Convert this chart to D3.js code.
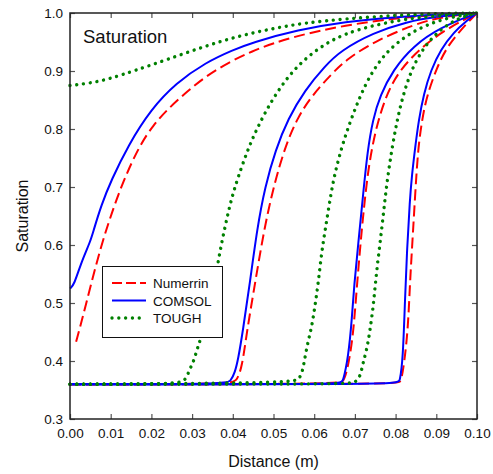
<!DOCTYPE html>
<html><head><meta charset="utf-8">
<script src="https://cdn.jsdelivr.net/npm/d3@7"></script>
<style>body{margin:0;background:#fff}svg{display:block;font-family:Arial,"Liberation Sans",sans-serif}</style>
</head><body><svg id="c" width="493" height="474"></svg>
<script>
// ---- data: [distance (m), saturation] ----
const numerrin1 = [[0.0015,0.433],[0.003,0.472],[0.005,0.528],[0.0077,0.6],[0.0101,0.652],[0.013,0.709],[0.0171,0.772],[0.0205,0.807],[0.0241,0.835],[0.029,0.866],[0.0334,0.891],[0.039,0.915],[0.0447,0.934],[0.05,0.948],[0.056,0.961],[0.0676,0.979],[0.08,0.991],[0.09,0.997],[0.1,1.0]];
const numerrin2 = [[0,0.36],[0.0395,0.36],[0.041,0.366],[0.0423,0.39],[0.0435,0.453],[0.0455,0.535],[0.0484,0.657],[0.0525,0.765],[0.056,0.821],[0.0595,0.858],[0.0644,0.896],[0.068,0.92],[0.0745,0.95],[0.085,0.982],[0.092,0.994],[0.1,1.0]];
const numerrin3 = [[0,0.36],[0.066,0.36],[0.0672,0.365],[0.068,0.38],[0.0695,0.436],[0.0705,0.531],[0.0717,0.629],[0.073,0.716],[0.0742,0.768],[0.0756,0.812],[0.0779,0.862],[0.0811,0.903],[0.0867,0.943],[0.0926,0.973],[0.1,1.0]];
const numerrin4 = [[0,0.36],[0.0805,0.36],[0.0812,0.364],[0.0818,0.38],[0.083,0.448],[0.0835,0.531],[0.084,0.59],[0.0848,0.686],[0.0855,0.765],[0.0865,0.816],[0.0877,0.858],[0.0902,0.907],[0.0926,0.941],[0.0958,0.969],[0.099,0.993],[0.1,1.0]];

const comsol1 = [[0,0.525],[0.001,0.531],[0.0028,0.571],[0.005,0.606],[0.0057,0.623],[0.0077,0.669],[0.0101,0.711],[0.0143,0.772],[0.0199,0.834],[0.026,0.879],[0.0334,0.915],[0.04,0.936],[0.0447,0.949],[0.056,0.971],[0.0676,0.985],[0.08,0.993],[0.09,0.997],[0.1,1.0]];
const comsol2 = [[0,0.36],[0.038,0.36],[0.0395,0.365],[0.0405,0.38],[0.0413,0.402],[0.0425,0.453],[0.0442,0.535],[0.046,0.629],[0.0479,0.7],[0.0505,0.764],[0.0536,0.818],[0.0577,0.867],[0.0627,0.909],[0.0665,0.935],[0.0745,0.966],[0.0828,0.985],[0.09,0.994],[0.1,1.0]];
const comsol3 = [[0,0.36],[0.0665,0.36],[0.067,0.362],[0.0684,0.407],[0.0693,0.476],[0.0698,0.53],[0.0708,0.6],[0.072,0.686],[0.0731,0.762],[0.0744,0.816],[0.0762,0.858],[0.0794,0.902],[0.0843,0.943],[0.0909,0.975],[0.1,1.0]];
const comsol4 = [[0,0.36],[0.0805,0.36],[0.081,0.363],[0.0818,0.402],[0.0823,0.505],[0.0828,0.591],[0.0835,0.678],[0.084,0.72],[0.0848,0.768],[0.0857,0.816],[0.0869,0.86],[0.0887,0.902],[0.0911,0.937],[0.0943,0.967],[0.0975,0.987],[0.1,1.0]];

const tough1 = [[0,0.875],[0.005,0.879],[0.01,0.887],[0.016,0.901],[0.024,0.92],[0.0332,0.943],[0.0413,0.96],[0.0496,0.973],[0.0577,0.983],[0.0676,0.99],[0.08,0.996],[0.09,0.999],[0.1,1.0]];
const tough2 = [[0,0.36],[0.0265,0.36],[0.0283,0.367],[0.029,0.378],[0.0297,0.39],[0.0304,0.4],[0.0314,0.424],[0.032,0.436],[0.0335,0.47],[0.0351,0.515],[0.0361,0.56],[0.0373,0.605],[0.0386,0.648],[0.0398,0.683],[0.0413,0.717],[0.0437,0.765],[0.0462,0.805],[0.0496,0.85],[0.0536,0.891],[0.0577,0.921],[0.0627,0.947],[0.0675,0.964],[0.0745,0.979],[0.085,0.993],[0.1,1.0]];
const tough3 = [[0,0.36],[0.0548,0.362],[0.0563,0.369],[0.0571,0.381],[0.0577,0.405],[0.0585,0.434],[0.0594,0.459],[0.0602,0.495],[0.061,0.535],[0.0618,0.586],[0.0627,0.626],[0.0637,0.67],[0.0648,0.716],[0.0668,0.77],[0.0688,0.812],[0.0713,0.857],[0.0737,0.892],[0.0762,0.918],[0.0786,0.938],[0.0828,0.962],[0.0877,0.98],[0.0934,0.993],[0.1,1.0]];
const tough4 = [[0,0.36],[0.0685,0.36],[0.07,0.363],[0.0713,0.372],[0.072,0.397],[0.073,0.422],[0.0737,0.453],[0.0745,0.493],[0.075,0.532],[0.0757,0.576],[0.0767,0.634],[0.0774,0.68],[0.0782,0.724],[0.0792,0.77],[0.0803,0.812],[0.0816,0.852],[0.0835,0.895],[0.086,0.931],[0.0892,0.96],[0.0934,0.984],[0.0975,0.996],[0.1,1.0]];

const xTicks = [0,0.01,0.02,0.03,0.04,0.05,0.06,0.07,0.08,0.09,0.1];
const yTicks = [0.3,0.4,0.5,0.6,0.7,0.8,0.9,1.0];
const legendNames = ["Numerrin","COMSOL","TOUGH"];

// ---- drawing ----
const svg = d3.select("#c");
const L = 70, R = 477, T = 13, B = 419;
const x = d3.scaleLinear().domain([0,0.1]).range([L,R]);
const y = d3.scaleLinear().domain([0.3,1.0]).range([B,T]);

const styles = {
  Numerrin: {stroke:"#ff0000", width:2, dash:"11,5", cap:"butt"},
  COMSOL: {stroke:"#0000ff", width:2, dash:null, cap:"butt"},
  TOUGH: {stroke:"#008000", width:3.4, dash:"0.01,6.8", cap:"round"}
};
const groups = [
  ["Numerrin",[numerrin1,numerrin2,numerrin3,numerrin4]],
  ["COMSOL",[comsol1,comsol2,comsol3,comsol4]],
  ["TOUGH",[tough1,tough2,tough3,tough4]]
];
const line = d3.line().x(d=>x(d[0])).y(d=>y(d[1])).curve(d3.curveBasis);

const plot = svg.append("g");
groups.forEach(([name, curves])=>{
  const s = styles[name];
  curves.forEach(c=>{
    plot.append("path").attr("d", line(c)).attr("fill","none")
      .attr("stroke", s.stroke).attr("stroke-width", s.width)
      .attr("stroke-dasharray", s.dash).attr("stroke-linecap", s.cap)
      .attr("stroke-linejoin","round");
  });
});

const fmt2 = d3.format(".2f"), fmt1 = d3.format(".1f");
function styleAxis(g){
  g.select(".domain").remove();
  g.selectAll(".tick line").attr("stroke","#555").attr("stroke-width",1.2);
  g.selectAll(".tick text").attr("fill","#111").style("font-size","13.5px");
}
svg.append("g").attr("transform",`translate(0,${B})`)
  .call(d3.axisBottom(x).tickValues(xTicks).tickFormat(fmt2).tickSizeInner(-5).tickSizeOuter(0).tickPadding(9))
  .call(styleAxis);
svg.append("g").attr("transform",`translate(0,${T})`)
  .call(d3.axisTop(x).tickValues(xTicks).tickFormat("").tickSizeInner(-5).tickSizeOuter(0))
  .call(styleAxis);
svg.append("g").attr("transform",`translate(${L},0)`)
  .call(d3.axisLeft(y).tickValues(yTicks).tickFormat(fmt1).tickSizeInner(-5).tickSizeOuter(0).tickPadding(7))
  .call(styleAxis);
svg.append("g").attr("transform",`translate(${R},0)`)
  .call(d3.axisRight(y).tickValues(yTicks).tickFormat("").tickSizeInner(-5).tickSizeOuter(0))
  .call(styleAxis);

svg.append("rect").attr("x",L).attr("y",T).attr("width",R-L).attr("height",B-T)
  .attr("fill","none").attr("stroke","#222").attr("stroke-width",1.5);

svg.append("text").attr("x",(L+R)/2).attr("y",467).attr("text-anchor","middle")
  .style("font-size","16px").attr("fill","#111").text("Distance (m)");
svg.append("text").attr("transform",`translate(28,${(T+B)/2}) rotate(-90)`).attr("text-anchor","middle")
  .style("font-size","16px").attr("fill","#111").text("Saturation");
svg.append("text").attr("x",83).attr("y",43).style("font-size","18.5px").attr("fill","#111").text("Saturation");

// legend
const lg = svg.append("g");
lg.append("rect").attr("x",102.5).attr("y",266.5).attr("width",120).attr("height",71)
  .attr("fill","#fff").attr("stroke","#111").attr("stroke-width",1);
legendNames.forEach((n,i)=>{
  const s = styles[n], yy = 283 + i*17.5;
  lg.append("line").attr("x1",112).attr("x2",146).attr("y1",yy).attr("y2",yy)
    .attr("stroke",s.stroke).attr("stroke-width",s.width)
    .attr("stroke-dasharray", n==="Numerrin" ? "10,4" : s.dash).attr("stroke-linecap",s.cap);
  lg.append("text").attr("x",153).attr("y",yy+5).style("font-size","13.5px").attr("fill","#111").text(n);
});
</script></body></html>
